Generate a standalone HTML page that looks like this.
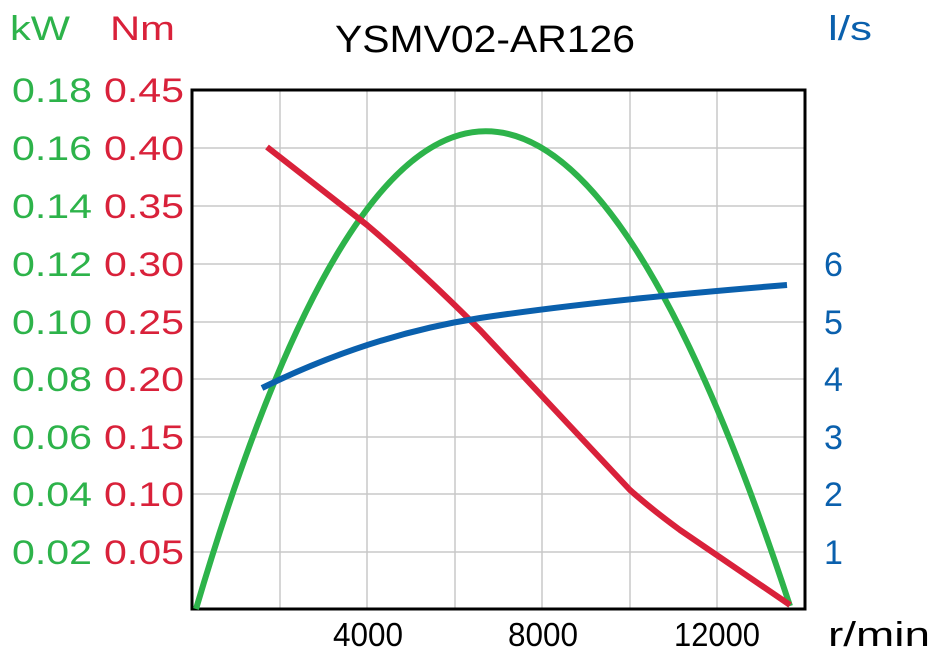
<!DOCTYPE html>
<html><head><style>
body{margin:0;background:#fff;}
svg text{font-family:"Liberation Sans",sans-serif;}
</style></head><body>
<svg width="937" height="653" viewBox="0 0 937 653" xmlns="http://www.w3.org/2000/svg">
<g stroke="#c8c8c8" stroke-width="1.5">
<line x1="280" y1="90" x2="280" y2="609"/><line x1="367" y1="90" x2="367" y2="609"/>
<line x1="455" y1="90" x2="455" y2="609"/><line x1="542" y1="90" x2="542" y2="609"/>
<line x1="630" y1="90" x2="630" y2="609"/><line x1="717" y1="90" x2="717" y2="609"/>
<line x1="192" y1="148" x2="805" y2="148"/><line x1="192" y1="206" x2="805" y2="206"/>
<line x1="192" y1="264" x2="805" y2="264"/><line x1="192" y1="322" x2="805" y2="322"/>
<line x1="192" y1="379" x2="805" y2="379"/><line x1="192" y1="437" x2="805" y2="437"/>
<line x1="192" y1="494" x2="805" y2="494"/><line x1="192" y1="552" x2="805" y2="552"/>
</g>
<rect x="192" y="90" width="613" height="519" fill="none" stroke="#000" stroke-width="3"/>
<path d="M196,609 Q478,-345 790,606" fill="none" stroke="#2db34a" stroke-width="6"/>
<path d="M267,147 L367,225 Q420,270 480,330 L630,490 Q650,508 680,530 L790,605" fill="none" stroke="#d9213a" stroke-width="6"/>
<path d="M262,388 Q370,335 480,318 Q600,300 787,285" fill="none" stroke="#0a60ad" stroke-width="6"/>
<text x="335" y="52" font-size="38" textLength="300" lengthAdjust="spacingAndGlyphs" fill="#000">YSMV02-AR126</text>
<text x="10" y="40" font-size="34" textLength="60" lengthAdjust="spacingAndGlyphs" fill="#2db34a">kW</text>
<text x="110" y="40" font-size="34" textLength="65" lengthAdjust="spacingAndGlyphs" fill="#d9213a">Nm</text>
<text x="828" y="40" font-size="34" textLength="44" lengthAdjust="spacingAndGlyphs" fill="#0a60ad">l/s</text>
<g font-size="34" fill="#2db34a">
<text x="12" y="102" textLength="80" lengthAdjust="spacingAndGlyphs">0.18</text><text x="12" y="160" textLength="80" lengthAdjust="spacingAndGlyphs">0.16</text><text x="12" y="218" textLength="80" lengthAdjust="spacingAndGlyphs">0.14</text>
<text x="12" y="276" textLength="80" lengthAdjust="spacingAndGlyphs">0.12</text><text x="12" y="334" textLength="80" lengthAdjust="spacingAndGlyphs">0.10</text><text x="12" y="391" textLength="80" lengthAdjust="spacingAndGlyphs">0.08</text>
<text x="12" y="449" textLength="80" lengthAdjust="spacingAndGlyphs">0.06</text><text x="12" y="506" textLength="80" lengthAdjust="spacingAndGlyphs">0.04</text><text x="12" y="564" textLength="80" lengthAdjust="spacingAndGlyphs">0.02</text>
</g>
<g font-size="34" fill="#d9213a">
<text x="104" y="102" textLength="80" lengthAdjust="spacingAndGlyphs">0.45</text><text x="104" y="160" textLength="80" lengthAdjust="spacingAndGlyphs">0.40</text><text x="104" y="218" textLength="80" lengthAdjust="spacingAndGlyphs">0.35</text>
<text x="104" y="276" textLength="80" lengthAdjust="spacingAndGlyphs">0.30</text><text x="104" y="334" textLength="80" lengthAdjust="spacingAndGlyphs">0.25</text><text x="104" y="391" textLength="80" lengthAdjust="spacingAndGlyphs">0.20</text>
<text x="104" y="449" textLength="80" lengthAdjust="spacingAndGlyphs">0.15</text><text x="104" y="506" textLength="80" lengthAdjust="spacingAndGlyphs">0.10</text><text x="104" y="564" textLength="80" lengthAdjust="spacingAndGlyphs">0.05</text>
</g>
<g font-size="34" fill="#0a60ad">
<text x="824" y="276">6</text><text x="824" y="334">5</text><text x="824" y="391">4</text>
<text x="824" y="449">3</text><text x="824" y="506">2</text><text x="824" y="564">1</text>
</g>
<g font-size="33" fill="#000">
<text x="333" y="646" textLength="70" lengthAdjust="spacingAndGlyphs">4000</text><text x="508" y="646" textLength="70" lengthAdjust="spacingAndGlyphs">8000</text><text x="674" y="646" textLength="86" lengthAdjust="spacingAndGlyphs">12000</text>
</g>
<text x="828" y="646" font-size="34" textLength="102" lengthAdjust="spacingAndGlyphs" fill="#000">r/min</text>
</svg>
</body></html>
